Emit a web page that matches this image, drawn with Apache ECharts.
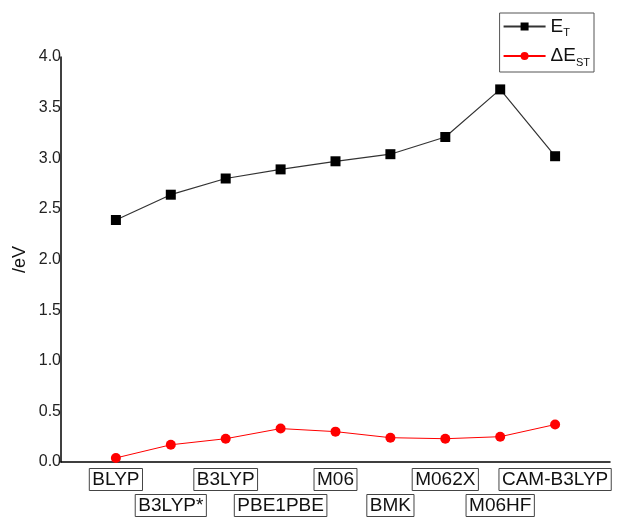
<!DOCTYPE html>
<html>
<head>
<meta charset="utf-8">
<script src="https://cdn.jsdelivr.net/npm/echarts@6/dist/echarts.min.js"></script>
<style>
html,body{margin:0;padding:0;background:#fff;}
#chart{width:622px;height:517px;}
</style>
</head>
<body>
<div id="chart"></div>
<script>
// ---- data ----
const categories = ['BLYP','B3LYP*','B3LYP','PBE1PBE','M06','BMK','M062X','M06HF','CAM-B3LYP'];
const eT  = [2.39, 2.64, 2.80, 2.89, 2.97, 3.04, 3.21, 3.68, 3.02];
const dEST = [0.04, 0.17, 0.23, 0.33, 0.30, 0.24, 0.23, 0.25, 0.37];
const yTicks = [0, 0.5, 1.0, 1.5, 2.0, 2.5, 3.0, 3.5, 4.0];

const FONT = "'Liberation Sans', Arial, sans-serif";
const chart = echarts.init(document.getElementById('chart'), null, {renderer:'canvas'});

function labelFor(row) {
  return function (v) {
    const i = Math.round(v) - 1;
    if (i < 0 || i >= categories.length) return '';
    if ((i % 2) !== row) return '';
    return '{b|' + categories[i] + '}';
  };
}
const boxRich = {
  b: {
    fontFamily: FONT, fontSize: 19, color: '#111',
    borderColor: '#444', borderWidth: 1,
    padding: [2, 3, 1, 3], lineHeight: 21
  }
};

chart.setOption({
  animation: false,
  backgroundColor: '#fff',
  grid: { left: 61, right: 12, top: 57, bottom: 55, containLabel: false },
  legend: {
    orient: 'vertical',
    right: 28, top: 13,
    borderColor: '#555', borderWidth: 1,
    padding: [4, 4, 4, 3],
    itemWidth: 42, itemHeight: 10, itemGap: 8,
    textStyle: {
      fontFamily: FONT, color: '#111', fontSize: 19,
      rich: {
        m: { fontFamily: FONT, fontSize: 19, lineHeight: 24, color: '#111', verticalAlign: 'middle' },
        s: { fontFamily: FONT, fontSize: 11, lineHeight: 24, color: '#111', verticalAlign: 'bottom' }
      }
    },
    formatter: function (name) {
      if (name === 'ET') return '{m|E}{s|T}';
      return '{m|ΔE}{s|ST}';
    },
    data: ['ET', 'ΔEST']
  },
  xAxis: [
    {
      type: 'value', min: 0, max: 10, interval: 1,
      axisLine: { show: true, lineStyle: { color: '#000', width: 1.5 } },
      axisTick: { show: false }, splitLine: { show: false },
      axisLabel: { margin: 7, formatter: labelFor(0), rich: boxRich, showMinLabel: true, showMaxLabel: true }
    },
    {
      type: 'value', min: 0, max: 10, interval: 1, position: 'bottom',
      axisLine: { show: false }, axisTick: { show: false }, splitLine: { show: false },
      axisLabel: { margin: 33, formatter: labelFor(1), rich: boxRich }
    }
  ],
  yAxis: {
    type: 'value', min: yTicks[0], max: yTicks[yTicks.length - 1], interval: 0.5,
    name: '/eV', nameLocation: 'middle', nameRotate: 90, nameGap: 32,
    nameMoveOverlap: false,
    nameTextStyle: { fontFamily: FONT, fontSize: 18, color: '#111' },
    axisLine: { show: true, lineStyle: { color: '#000', width: 1.5 } },
    axisTick: { show: false }, splitLine: { show: false },
    axisLabel: {
      margin: 0, fontFamily: FONT, fontSize: 16, color: '#222',
      formatter: function (v) { return v.toFixed(1); }
    }
  },
  series: [
    {
      name: 'ET', type: 'line', xAxisIndex: 0,
      data: eT.map((v, i) => [i + 1, v]),
      symbol: 'rect', symbolSize: 10,
      lineStyle: { color: '#333', width: 1.2 },
      itemStyle: { color: '#000' }
    },
    {
      name: 'ΔEST', type: 'line', xAxisIndex: 0,
      data: dEST.map((v, i) => [i + 1, v]),
      symbol: 'circle', symbolSize: 10,
      lineStyle: { color: '#ff0000', width: 1 },
      itemStyle: { color: '#ff0000' }
    }
  ]
});
</script>
</body>
</html>
